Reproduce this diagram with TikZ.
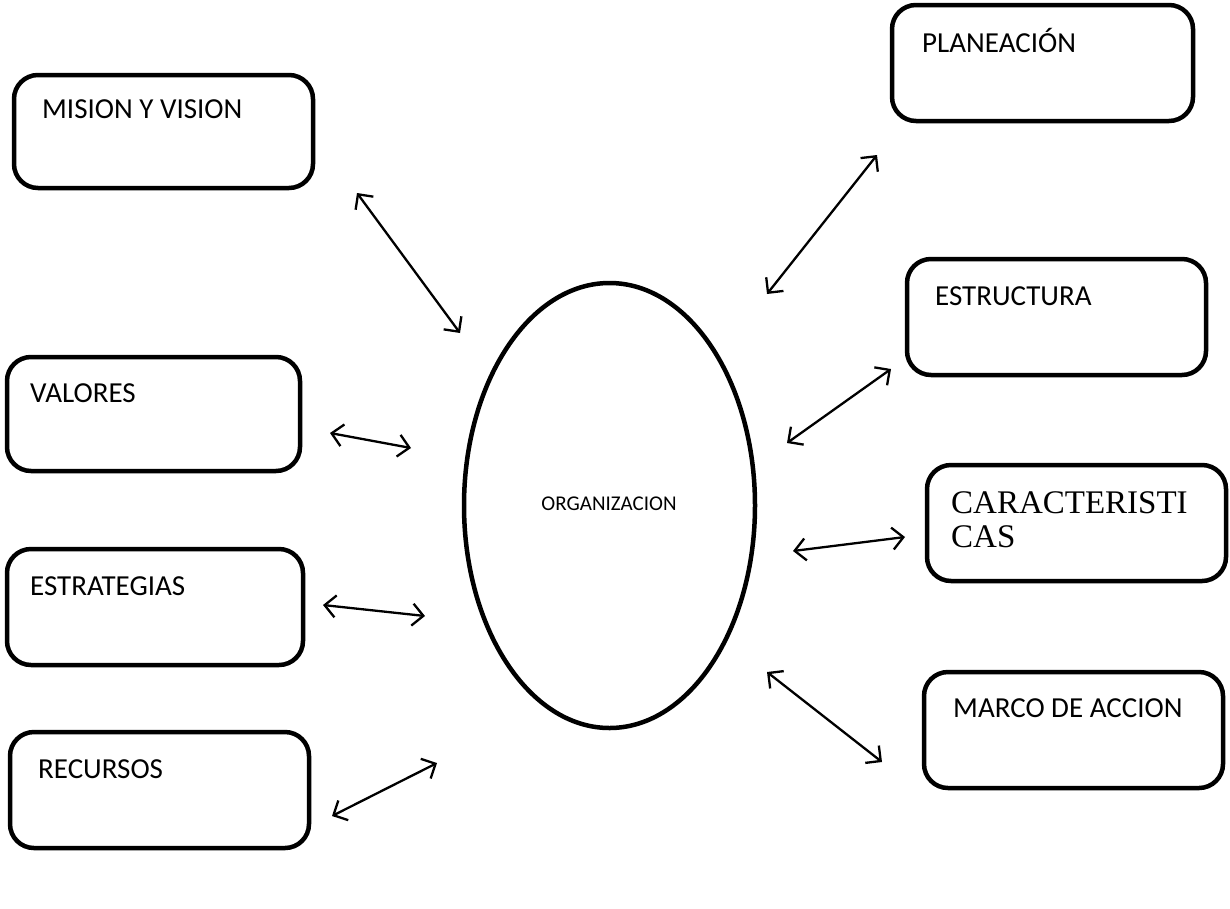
\documentclass[tikz,border=0pt]{standalone}
\usepackage{fontspec}
\setmainfont{Carlito}
\newfontfamily\serifface{Liberation Serif}
\usetikzlibrary{shapes.geometric,arrows.meta}
\begin{document}
\begin{tikzpicture}[x=1pt,y=-1pt,
  box/.style={draw,line width=4.5pt,rounded corners=24pt,inner sep=0pt},
  lbl/.style={anchor=base west,inner sep=0pt,font=\fontsize{29}{34}\selectfont},
  sbl/.style={anchor=base west,inner sep=0pt,font=\serifface\fontsize{33}{36}\selectfont},
  link/.style={line width=2.3pt,{Straight Barb[length=11pt,width=22pt]}-{Straight Barb[length=11pt,width=22pt]}}]
\useasboundingbox (0,0) rectangle (1230,908);
\fill[white] (0,0) rectangle (1230,908);

% central ellipse
\node[draw,ellipse,line width=4.5pt,inner sep=0pt,minimum width=291pt,minimum height=445pt] (org) at (609.5,505.5) {};
\node[anchor=base,inner sep=0pt,font=\fontsize{21}{24}\selectfont] (orgtxt) at (609,510) {ORGANIZACION};

% left boxes
\node[box,minimum width=299pt,minimum height=113pt] (mision) at (163.5,131.5) {};
\node[lbl] (misiontxt) at (42,118) {MISION Y VISION};
\node[box,minimum width=293pt,minimum height=114pt] (valores) at (153.5,414) {};
\node[lbl] (valorestxt) at (30,402) {VALORES};
\node[box,minimum width=296pt,minimum height=116pt] (estrat) at (155,607) {};
\node[lbl] (estrattxt) at (30,595) {ESTRATEGIAS};
\node[box,minimum width=299pt,minimum height=116pt] (recursos) at (159.5,790) {};
\node[lbl] (recursostxt) at (38,778) {RECURSOS};

% right boxes
\node[box,minimum width=301pt,minimum height=116pt] (plan) at (1042.5,63) {};
\node[lbl] (plantxt) at (922,52) {PLANEACIÓN};
\node[box,minimum width=299pt,minimum height=116pt] (estruct) at (1056.5,317) {};
\node[lbl] (estructtxt) at (935,305) {ESTRUCTURA};
\node[box,minimum width=299pt,minimum height=116pt] (caract) at (1076.5,523) {};
\node[sbl] (caracttxta) at (951,513) {CARACTERISTI};
\node[sbl] (caracttxtb) at (951,547) {CAS};
\node[box,minimum width=299pt,minimum height=116pt] (marco) at (1073.5,730) {};
\node[lbl] (marcotxt) at (953,717) {MARCO DE ACCION};

% connector end points
\coordinate (m1) at (357,193);  \coordinate (m2) at (460,333);
\coordinate (p1) at (877,155);  \coordinate (p2) at (767,294);
\coordinate (v1) at (330,433);  \coordinate (v2) at (411,448);
\coordinate (e1) at (891,369);  \coordinate (e2) at (787,443);
\coordinate (s1) at (323,605);  \coordinate (s2) at (425,616);
\coordinate (c1) at (793,551);  \coordinate (c2) at (905,537);
\coordinate (r1) at (437,763);  \coordinate (r2) at (332,816);
\coordinate (k1) at (767,672);  \coordinate (k2) at (882,762);

\draw[link] (m1) -- (m2);
\draw[link] (p1) -- (p2);
\draw[link] (v1) -- (v2);
\draw[link] (e1) -- (e2);
\draw[link] (s1) -- (s2);
\draw[link] (c1) -- (c2);
\draw[link] (r1) -- (r2);
\draw[link] (k1) -- (k2);
\end{tikzpicture}
\end{document}
